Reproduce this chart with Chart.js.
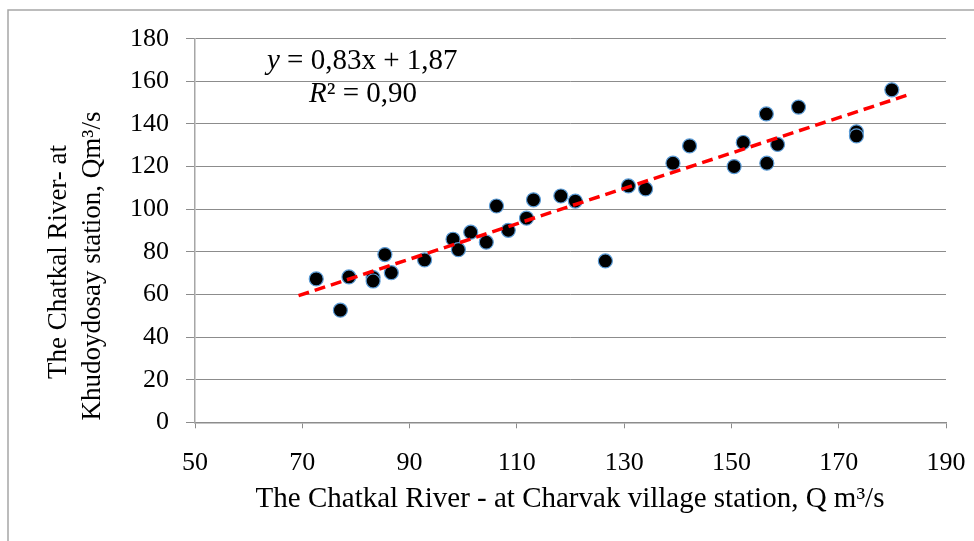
<!DOCTYPE html>
<html>
<head>
<meta charset="utf-8">
<script src="https://cdn.jsdelivr.net/npm/chart.js@4/dist/chart.umd.min.js"></script>
<style>
  html, body { margin: 0; padding: 0; background: #ffffff; }
  #wrap { width: 974px; height: 541px; position: relative; }
</style>
</head>
<body>
<div id="wrap"><canvas id="c" width="974" height="541"></canvas></div>
<script>
// Charvak village station discharge (x) and Khudoydosay station discharge (y)
const charvakQ = [72.6, 77.1, 78.7, 83.2, 83.2, 85.4, 86.6, 92.8, 98.1, 99.1, 101.4, 104.3, 106.2, 108.4, 111.8, 113.1,
                  118.2, 120.9, 126.5, 130.8, 134.0, 139.1, 142.2, 150.5, 152.2, 156.5, 156.6, 158.6, 162.5, 173.3, 173.3, 179.9];
const khudoydosayQ = [67.3, 52.6, 68.2, 67.9, 66.3, 78.7, 70.2, 76.2, 85.9, 81.0, 89.2, 84.5, 101.5, 90.1, 95.8, 104.4,
                      106.2, 103.8, 75.7, 110.9, 109.5, 121.6, 129.7, 120.0, 131.3, 144.7, 121.6, 130.4, 147.9, 136.3, 134.4, 156.0];
// Linear trendline end points
const trendX = [69.3, 183.1];
const trendY = [59.4, 153.8];
// Axis ticks
const xTicks = [50, 70, 90, 110, 130, 150, 170, 190];
const yTicks = [0, 20, 40, 60, 80, 100, 120, 140, 160, 180];

const equationText = 'y = 0,83x + 1,87';
const r2Text = 'R² = 0,90';
const xTitle = 'The Chatkal River - at Charvak village station, Q m³/s';
const yTitleLines = ['The Chatkal River- at', 'Khudoydosay station, Qm³/s'];

const SERIF = '"Liberation Serif", "Times New Roman", serif';
const FS = 26;

const scatterData = charvakQ.map((x, i) => ({ x: x, y: khudoydosayQ[i] }));
const trendData = trendX.map((x, i) => ({ x: x, y: trendY[i] }));

const decorPlugin = {
  id: 'decor',
  beforeDraw(chart) {
    const ctx = chart.ctx;
    ctx.save();
    ctx.fillStyle = '#ffffff';
    ctx.fillRect(0, 0, chart.width, chart.height);
    ctx.strokeStyle = '#a6a6a6';
    ctx.lineWidth = 1.5;
    ctx.beginPath();
    ctx.moveTo(8, chart.height + 5);
    ctx.lineTo(8, 10);
    ctx.lineTo(chart.width + 5, 10);
    ctx.stroke();
    ctx.restore();
  },
  afterDraw(chart) {
    const ctx = chart.ctx;
    ctx.save();
    ctx.fillStyle = '#000000';
    ctx.textBaseline = 'alphabetic';
    // equation: y italic
    const EQ = 29;
    let x0 = 267, base1 = 69;
    ctx.textAlign = 'left';
    ctx.font = 'italic ' + EQ + 'px ' + SERIF;
    ctx.fillText(equationText.slice(0, 1), x0, base1);
    let w = ctx.measureText(equationText.slice(0, 1)).width;
    ctx.font = EQ + 'px ' + SERIF;
    ctx.fillText(equationText.slice(1), x0 + w, base1);
    // R² line
    let x1 = 309, base2 = 102;
    ctx.font = 'italic ' + EQ + 'px ' + SERIF;
    ctx.fillText(r2Text.slice(0, 1), x1, base2);
    w = ctx.measureText(r2Text.slice(0, 1)).width;
    ctx.font = EQ + 'px ' + SERIF;
    ctx.fillText(r2Text.slice(1), x1 + w, base2);
    // x axis title
    ctx.textAlign = 'center';
    ctx.font = '29px ' + SERIF;
    ctx.fillText(xTitle, 570, 507);
    // y axis title (rotated)
    ctx.font = '27px ' + SERIF;
    const baseX = [66, 100];
    const centerY = [262, 266];
    yTitleLines.forEach((t, i) => {
      ctx.save();
      ctx.translate(baseX[i], centerY[i]);
      ctx.rotate(-Math.PI / 2);
      ctx.fillText(t, 0, 0);
      ctx.restore();
    });
    ctx.restore();
  }
};

new Chart(document.getElementById('c'), {
  type: 'scatter',
  data: {
    datasets: [
      {
        type: 'line',
        label: 'Linear trend',
        data: trendData,
        borderColor: '#ff0000',
        borderWidth: 3.5,
        borderDash: [11, 6],
        pointRadius: 0,
        fill: false,
        tension: 0,
        order: 0
      },
      {
        label: 'Observed',
        data: scatterData,
        backgroundColor: '#000000',
        borderColor: '#5b9bd5',
        borderWidth: 1.2,
        pointRadius: 7,
        pointHoverRadius: 7,
        order: 1
      }
    ]
  },
  options: {
    responsive: false,
    animation: false,
    events: [],
    layout: { padding: { left: 0, right: 28, top: 38.7, bottom: 0 } },
    plugins: { legend: { display: false }, tooltip: { enabled: false } },
    scales: {
      x: {
        type: 'linear',
        min: xTicks[0],
        max: xTicks[xTicks.length - 1],
        afterBuildTicks(scale) { scale.ticks = xTicks.map(v => ({ value: v })); },
        afterFit(scale) { scale.height = 541 - 422.3; scale.paddingLeft = 0; scale.paddingRight = 0; },
        grid: { display: true, drawOnChartArea: false, drawTicks: true, tickLength: 6, color: '#8c8c8c', lineWidth: 1 },
        border: { display: true, color: '#8c8c8c', width: 1.5 },
        ticks: { color: '#000000', font: { family: SERIF, size: FS }, padding: 19, maxRotation: 0, autoSkip: false }
      },
      y: {
        type: 'linear',
        min: yTicks[0],
        max: yTicks[yTicks.length - 1],
        afterBuildTicks(scale) { scale.ticks = yTicks.map(v => ({ value: v })); },
        afterFit(scale) { scale.width = 195; scale.paddingTop = 0; scale.paddingBottom = 0; },
        grid: { display: true, drawOnChartArea: true, drawTicks: true, tickLength: 9, color: '#8c8c8c', lineWidth: 1 },
        border: { display: true, color: '#a6a6a6', width: 1.5 },
        ticks: { color: '#000000', font: { family: SERIF, size: FS }, padding: 17, autoSkip: false }
      }
    }
  },
  plugins: [decorPlugin]
});
</script>
</body>
</html>
